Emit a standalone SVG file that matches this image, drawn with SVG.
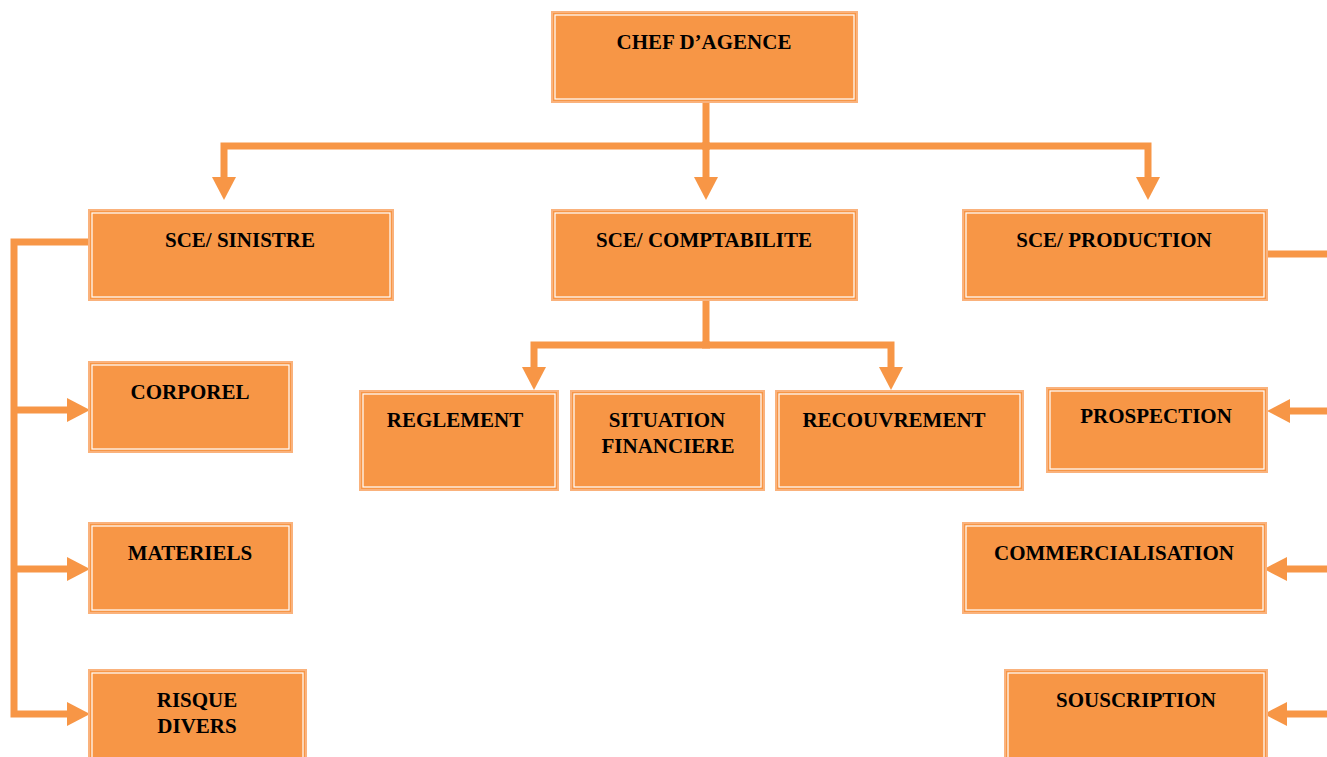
<svg xmlns="http://www.w3.org/2000/svg" width="1327" height="757" viewBox="0 0 1327 757">
  <style>
    .box { fill: #F79646; stroke: #FAB27C; stroke-width: 2; }
    .inner { fill: none; stroke: #FFFFFF; stroke-width: 1.2; }
    .lbl { font-family: "Liberation Serif", "Times New Roman", serif; font-weight: bold; font-size: 21px; fill: #000000; text-anchor: middle; }
    .link { fill: none; stroke: #F79646; stroke-width: 7; stroke-linejoin: miter; stroke-linecap: butt; }
    .arrow { marker-end: url(#head); }
  </style>
  <defs>
    <marker id="head" markerUnits="userSpaceOnUse" markerWidth="23" markerHeight="24" refX="0" refY="12" orient="auto" overflow="visible">
      <path d="M0,0 L23,12 L0,24 Z" fill="#F79646"/>
    </marker>
  </defs>
  <rect width="1327" height="757" fill="#FFFFFF"/>

  <!-- connectors -->
  <g id="connectors">
    <!-- chef -> services -->
    <path class="link arrow" d="M706,102 V177"/>
    <path class="link arrow" d="M710,146 H224 V177"/>
    <path class="link arrow" d="M702,146 H1148 V177"/>
    <!-- comptabilite -> sub units -->
    <path class="link" d="M706,300 V345"/>
    <path class="link arrow" d="M710,345 H534 V367"/>
    <path class="link arrow" d="M702,345 H891 V367"/>
    <!-- sinistre branch -->
    <path class="link arrow" d="M88,242 H14 V714 H67"/>
    <path class="link arrow" d="M14,410 H67"/>
    <path class="link arrow" d="M14,569 H67"/>
    <!-- production branch -->
    <path class="link" d="M1268,254 H1330"/>
    <path class="link arrow" d="M1330,411 H1290"/>
    <path class="link arrow" d="M1330,569 H1287"/>
    <path class="link arrow" d="M1330,714 H1287"/>
  </g>

  <g id="chef">
    <rect class="box" x="552" y="12" width="305" height="90"/>
    <rect class="inner" x="555" y="15" width="299" height="84"/>
    <text class="lbl" x="704" y="49">CHEF D’AGENCE</text>
  </g>

  <g id="sce-sinistre">
    <rect class="box" x="89" y="210" width="304" height="90"/>
    <rect class="inner" x="92" y="213" width="298" height="84"/>
    <text class="lbl" x="240" y="247">SCE/ SINISTRE</text>
  </g>

  <g id="sce-comptabilite">
    <rect class="box" x="552" y="210" width="305" height="90"/>
    <rect class="inner" x="555" y="213" width="299" height="84"/>
    <text class="lbl" x="704" y="247">SCE/ COMPTABILITE</text>
  </g>

  <g id="sce-production">
    <rect class="box" x="963" y="210" width="304" height="90"/>
    <rect class="inner" x="966" y="213" width="298" height="84"/>
    <text class="lbl" x="1114" y="247">SCE/ PRODUCTION</text>
  </g>

  <g id="corporel">
    <rect class="box" x="89" y="362" width="203" height="90"/>
    <rect class="inner" x="92" y="365" width="197" height="84"/>
    <text class="lbl" x="190" y="399">CORPOREL</text>
  </g>

  <g id="materiels">
    <rect class="box" x="89" y="523" width="203" height="90"/>
    <rect class="inner" x="92" y="526" width="197" height="84"/>
    <text class="lbl" x="190" y="560">MATERIELS</text>
  </g>

  <g id="risque-divers">
    <rect class="box" x="89" y="670" width="217" height="100"/>
    <rect class="inner" x="92" y="673" width="211" height="94"/>
    <text class="lbl" x="197" y="707">RISQUE</text>
    <text class="lbl" x="197" y="733">DIVERS</text>
  </g>

  <g id="reglement">
    <rect class="box" x="360" y="391" width="198" height="99"/>
    <rect class="inner" x="363" y="394" width="192" height="93"/>
    <text class="lbl" x="455" y="427">REGLEMENT</text>
  </g>

  <g id="situation-financiere">
    <rect class="box" x="571" y="391" width="193" height="99"/>
    <rect class="inner" x="574" y="394" width="187" height="93"/>
    <text class="lbl" x="667" y="427">SITUATION</text>
    <text class="lbl" x="668" y="453">FINANCIERE</text>
  </g>

  <g id="recouvrement">
    <rect class="box" x="776" y="391" width="247" height="99"/>
    <rect class="inner" x="779" y="394" width="241" height="93"/>
    <text class="lbl" x="894" y="427">RECOUVREMENT</text>
  </g>

  <g id="prospection">
    <rect class="box" x="1047" y="388" width="220" height="84"/>
    <rect class="inner" x="1050" y="391" width="214" height="78"/>
    <text class="lbl" x="1156" y="423">PROSPECTION</text>
  </g>

  <g id="commercialisation">
    <rect class="box" x="963" y="523" width="303" height="90"/>
    <rect class="inner" x="966" y="526" width="297" height="84"/>
    <text class="lbl" x="1114" y="560">COMMERCIALISATION</text>
  </g>

  <g id="souscription">
    <rect class="box" x="1005" y="670" width="262" height="100"/>
    <rect class="inner" x="1008" y="673" width="256" height="94"/>
    <text class="lbl" x="1136" y="707">SOUSCRIPTION</text>
  </g>
</svg>
